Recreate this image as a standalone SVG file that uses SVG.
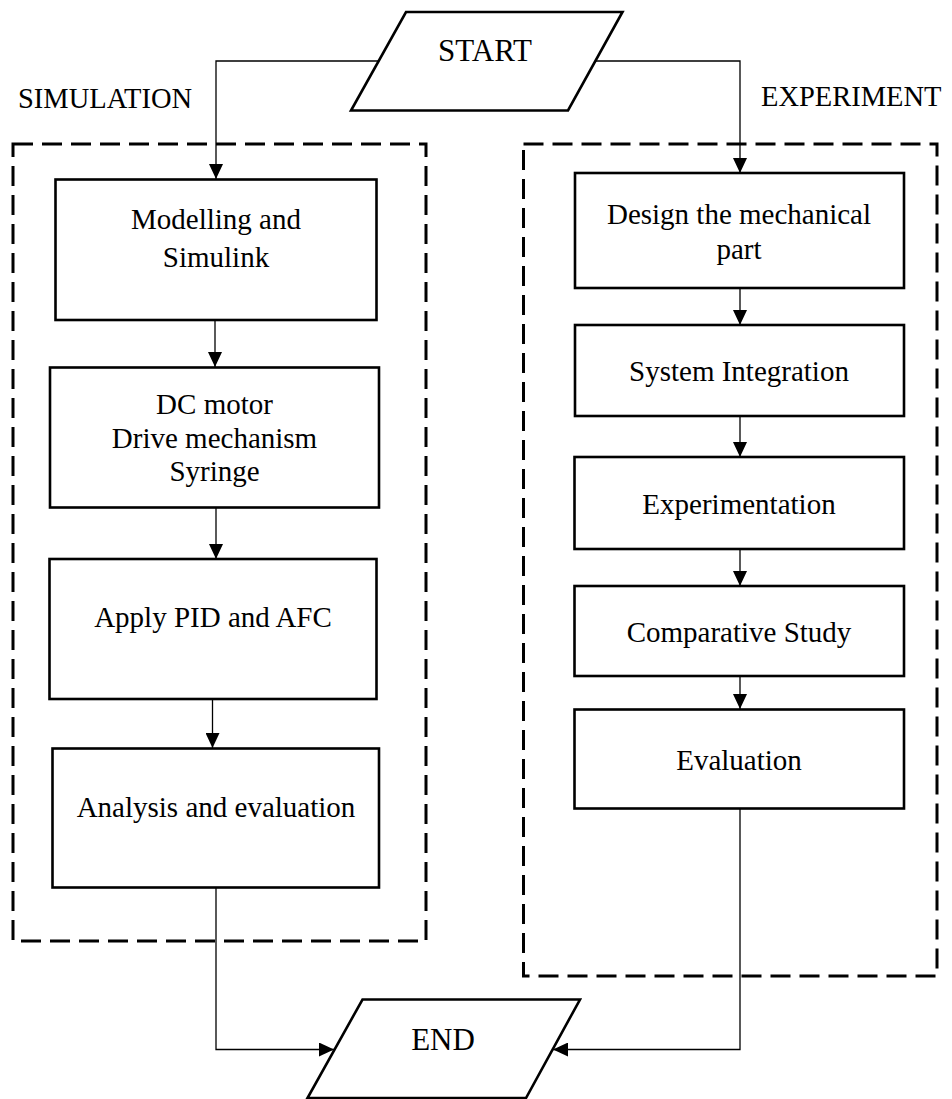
<svg xmlns="http://www.w3.org/2000/svg" width="952" height="1099" viewBox="0 0 952 1099">
  <style>
    .bg { fill: #ffffff; }
    .box { fill: #ffffff; stroke: #000000; stroke-width: 2.6; }
    .frame { fill: none; stroke: #000000; stroke-width: 3; stroke-dasharray: 20 9; }
    .wire { fill: none; stroke: #000000; stroke-width: 1.3; marker-end: url(#arrow); }
    .label { font-family: "Liberation Serif", "Times New Roman", serif; font-size: 29px; fill: #000000; text-anchor: middle; }
    .big { font-size: 31px; }
    .side { font-family: "Liberation Serif", "Times New Roman", serif; font-size: 28.5px; fill: #000000; }
  </style>
  <defs>
    <marker id="arrow" markerUnits="userSpaceOnUse" markerWidth="16" markerHeight="14" refX="15" refY="7" orient="auto">
      <path d="M0,0 L15,7 L0,14 z" fill="#000000"/>
    </marker>
  </defs>

  <rect class="bg" x="0" y="0" width="952" height="1099"/>

  <!-- section labels -->
  <text class="side" x="18" y="107.5">SIMULATION</text>
  <text class="side" x="761" y="106">EXPERIMENT</text>

  <!-- dashed section frames -->
  <g id="simulation-frame">
    <rect class="frame" x="13" y="144" width="413" height="797"/>
  </g>
  <g id="experiment-frame">
    <rect class="frame" x="523.5" y="144" width="413.5" height="832"/>
  </g>

  <!-- connectors -->
  <g id="connectors">
    <polyline class="wire" points="378,61 216,61 216,179"/>
    <polyline class="wire" points="596,61 740,61 740,173"/>
    <line class="wire" x1="215" y1="320" x2="215" y2="367"/>
    <line class="wire" x1="216" y1="507" x2="216" y2="559"/>
    <line class="wire" x1="212.5" y1="699" x2="212.5" y2="748"/>
    <polyline class="wire" points="216,888 216,1049.5 334,1049.5"/>
    <line class="wire" x1="740" y1="288" x2="740" y2="325"/>
    <line class="wire" x1="740" y1="416" x2="740" y2="457"/>
    <line class="wire" x1="740" y1="549" x2="740" y2="586"/>
    <line class="wire" x1="740" y1="676" x2="740" y2="709"/>
    <polyline class="wire" points="740,808 740,1049.5 553,1049.5"/>
  </g>

  <!-- terminals -->
  <g id="start">
    <polygon class="box" points="406,12 622.5,12 568,110.5 351,110.5"/>
    <text class="label big" x="485" y="61">START</text>
  </g>
  <g id="end">
    <polygon class="box" points="362.5,999.5 580,999.5 526,1098 307.5,1098"/>
    <text class="label big" x="443" y="1050">END</text>
  </g>

  <!-- simulation steps -->
  <g id="modelling">
    <rect class="box" x="55.5" y="179.5" width="321" height="140.5"/>
    <text class="label" x="216" y="229">Modelling and</text>
    <text class="label" x="216" y="266.5">Simulink</text>
  </g>
  <g id="plant">
    <rect class="box" x="50" y="367.5" width="329" height="140"/>
    <text class="label" x="214.5" y="413.5">DC motor</text>
    <text class="label" x="214.5" y="447.5">Drive mechanism</text>
    <text class="label" x="214.5" y="481">Syringe</text>
  </g>
  <g id="controllers">
    <rect class="box" x="49.5" y="559" width="327" height="140"/>
    <text class="label" x="213" y="626.5">Apply PID and AFC</text>
  </g>
  <g id="analysis">
    <rect class="box" x="52.5" y="748.5" width="326.5" height="139"/>
    <text class="label" x="216" y="816.5">Analysis and evaluation</text>
  </g>

  <!-- experiment steps -->
  <g id="design">
    <rect class="box" x="575" y="173" width="329" height="115"/>
    <text class="label" x="739" y="224">Design the mechanical</text>
    <text class="label" x="739" y="258.5">part</text>
  </g>
  <g id="integration">
    <rect class="box" x="575" y="325" width="329" height="91"/>
    <text class="label" x="739" y="381">System Integration</text>
  </g>
  <g id="experimentation">
    <rect class="box" x="574.5" y="457" width="329.5" height="92"/>
    <text class="label" x="739" y="513.5">Experimentation</text>
  </g>
  <g id="comparison">
    <rect class="box" x="574.5" y="586" width="329.5" height="90"/>
    <text class="label" x="739" y="642">Comparative Study</text>
  </g>
  <g id="evaluation">
    <rect class="box" x="574.5" y="709.5" width="329.5" height="99"/>
    <text class="label" x="739" y="770">Evaluation</text>
  </g>
</svg>
